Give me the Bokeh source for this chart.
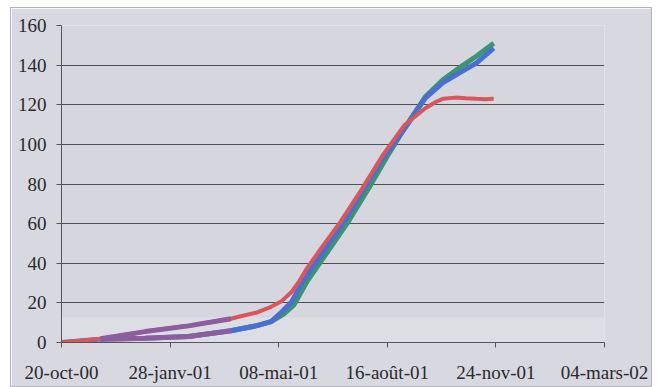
from bokeh.plotting import figure
from bokeh.models import Range1d, FixedTicker, BoxAnnotation
from bokeh.embed import file_html
from bokeh.resources import INLINE

# Days counted from 20-oct-00
tick_days = [0, 100, 200, 300, 400, 500]
tick_labels = ["20-oct-00", "28-janv-01", "08-mai-01", "16-août-01", "24-nov-01", "04-mars-02"]
y_ticks = [0, 20, 40, 60, 80, 100, 120, 140, 160]

red_days = [0, 36, 77, 117, 156, 163, 179, 193, 203, 212, 219, 226, 238, 257, 277, 296, 316, 335, 345, 351, 363, 372, 382, 390, 398]
red_vals = [0, 1.9, 5.5, 8.4, 12.0, 13.0, 15.0, 18.0, 21.0, 25.6, 31.0, 37.4, 46.7, 61.0, 77.8, 94.7, 109.8, 118.2, 121.5, 123.0, 123.6, 123.3, 123.0, 122.8, 123.0]

blue_days = [0, 36, 77, 117, 156, 180, 193, 203, 212, 222, 241, 261, 278, 296, 316, 335, 351, 366, 382, 398]
blue_vals = [0, 1.7, 2.2, 3.0, 5.9, 8.5, 10.5, 15.5, 20.6, 30.7, 45.8, 61.8, 77.0, 93.0, 108.0, 123.3, 131.0, 136.0, 141.0, 148.6]

green_days = [156, 180, 193, 205, 214, 226, 245, 265, 283, 300, 318, 335, 351, 366, 382, 398]
green_vals = [5.9, 8.5, 10.5, 14.5, 19.0, 30.7, 45.8, 61.8, 78.0, 94.0, 110.0, 124.0, 132.5, 138.5, 144.5, 151.0]

# stretch where the two early curves are drawn in purple
purple_from, purple_to = 36, 156

RED = "#d9575a"
BLUE = "#4a6fd3"
GREEN = "#3a9670"
PURPLE = "#8c5f9c"
FONT = "serif"

p = figure(width=642, height=380, output_backend="svg", toolbar_location=None,
           x_range=Range1d(0, 500), y_range=Range1d(0, 160),
           min_border_left=50, min_border_right=49, min_border_top=17, min_border_bottom=46)
p.margin = (7, 13, 0, 10)
p.background_fill_color = "#d6d6de"
p.border_fill_color = "#d8d8e0"
p.outline_line_color = None
p.styles = {"border": "1px solid #b4b4bc", "box-sizing": "border-box"}

# lighter strip along the bottom of the plot
p.add_layout(BoxAnnotation(top=12.8, fill_color="white", fill_alpha=0.18, line_color=None, level="underlay"))

p.line(green_days, green_vals, line_color=GREEN, line_width=5)
p.line(blue_days, blue_vals, line_color=BLUE, line_width=5)
p.line(red_days, red_vals, line_color=RED, line_width=4)

for days, vals in ((red_days, red_vals), (blue_days, blue_vals)):
    seg = [(d, v) for d, v in zip(days, vals) if purple_from <= d <= purple_to]
    p.line([d for d, _ in seg], [v for _, v in seg], line_color=PURPLE, line_width=5)

p.xaxis.ticker = FixedTicker(ticks=tick_days)
p.xaxis.major_label_overrides = {d: t for d, t in zip(tick_days, tick_labels)}
p.yaxis.ticker = FixedTicker(ticks=y_ticks)

for ax in (p.xaxis[0], p.yaxis[0]):
    ax.axis_line_color = "#555555"
    ax.major_tick_line_color = "#555555"
    ax.major_tick_out = 5
    ax.major_tick_in = 0
    ax.minor_tick_out = 0
    ax.minor_tick_in = 0
    ax.major_label_text_font = FONT
    ax.major_label_text_font_size = "19px"
    ax.major_label_text_color = "#2a2a2a"
p.yaxis.major_label_standoff = 10
p.xaxis.major_label_standoff = 14

p.xgrid.grid_line_color = None
p.ygrid.grid_line_color = "#505050"
p.ygrid.grid_line_width = 1

open("out.html", "w").write(file_html(p, INLINE))
